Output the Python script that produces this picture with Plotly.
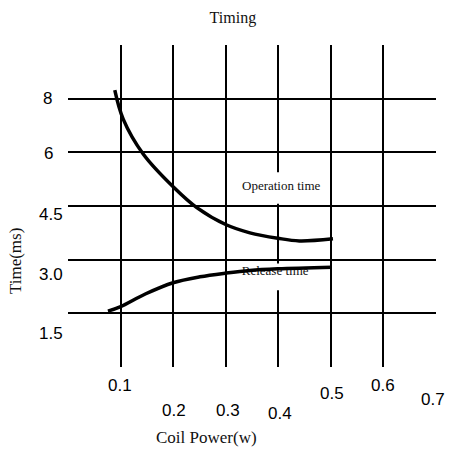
import plotly.graph_objects as go

# ---- data (y in grid units: each horizontal grid line = 1 step) ----
op_power = [0.089, 0.105, 0.143, 0.202, 0.245, 0.301, 0.346, 0.399, 0.440, 0.504]
op_time = [5.16, 4.62, 3.97, 3.34, 2.97, 2.65, 2.50, 2.40, 2.35, 2.39]

rel_power = [0.076, 0.099, 0.147, 0.200, 0.251, 0.301, 0.346, 0.399, 0.502]
rel_time = [1.04, 1.12, 1.36, 1.57, 1.68, 1.75, 1.80, 1.83, 1.86]

x_ticks = [0.1, 0.2, 0.3, 0.4, 0.5, 0.6, 0.7]
x_tick_labels = ["0.1", "0.2", "0.3", "0.4", "0.5", "0.6", "0.7"]
y_grid = [1, 2, 3, 4, 5, 6]
y_ticks = [5, 4, 3, 2, 1]
y_tick_labels = ["8", "6", "4.5", "3.0", "1.5"]

# ---- layout helpers (pixel offsets for the staggered labels) ----
x_label_drop = [18, 43, 43, 46, 26, 18, 32]
x_label_shift = [-1, 1, 2, 2, 1, 0, -3]
y_label_drop = [0, 1, 8, 15, 20]
y_label_shift = [-21, -20, -17, -17, -17]

SERIF = "Liberation Serif"
SANS = "Liberation Sans"

fig = go.Figure()

# white boxes behind the curve labels (hide the grid line there)
fig.add_shape(type="rect", layer="between", x0=0.33, x1=0.48, y0=3.04, y1=3.63,
              fillcolor="white", line=dict(width=0))
fig.add_shape(type="rect", layer="between", x0=0.33, x1=0.46, y0=1.43, y1=1.93,
              fillcolor="white", line=dict(width=0))

fig.add_trace(go.Scatter(x=op_power, y=op_time, mode="lines",
                         line=dict(color="black", width=3.5, shape="spline", smoothing=1.0),
                         hoverinfo="skip", showlegend=False))
fig.add_trace(go.Scatter(x=[0.394], y=[1.77], mode="text", text=["Release time"],
                         textfont=dict(family=SERIF, size=13, color="#111"),
                         hoverinfo="skip", showlegend=False))
fig.add_trace(go.Scatter(x=rel_power, y=rel_time, mode="lines",
                         line=dict(color="black", width=3.5, shape="spline", smoothing=1.0),
                         hoverinfo="skip", showlegend=False))

annotations = []
annotations.append(dict(x=0.407, y=3.39, xref="x", yref="y", text="Operation time",
                        showarrow=False, font=dict(family=SERIF, size=13, color="#111")))
for xv, lab, drop, sh in zip(x_ticks, x_tick_labels, x_label_drop, x_label_shift):
    annotations.append(dict(x=xv, y=0, xref="x", yref="paper", text=lab, showarrow=False,
                            xanchor="center", yanchor="middle", yshift=-drop, xshift=sh,
                            font=dict(family=SANS, size=17, color="black")))
for yv, lab, drop, sh in zip(y_ticks, y_tick_labels, y_label_drop, y_label_shift):
    annotations.append(dict(x=0, y=yv, xref="paper", yref="y", text=lab, showarrow=False,
                            xanchor="center", yanchor="middle", yshift=-drop, xshift=sh,
                            font=dict(family=SANS, size=17, color="black")))
annotations.append(dict(x=0.234, y=0, xref="paper", yref="paper", text="Coil Power(w)",
                        showarrow=False, yshift=-70, yanchor="middle",
                        font=dict(family=SERIF, size=17, color="#111")))
annotations.append(dict(x=-0.144, y=0.329, xref="paper", yref="paper", text="Time(ms)",
                        showarrow=False, textangle=-90, xanchor="center", yanchor="middle",
                        font=dict(family=SERIF, size=17, color="#111")))

fig.update_layout(
    width=449, height=451,
    margin=dict(l=68, r=13, t=45, b=84),
    paper_bgcolor="white", plot_bgcolor="white",
    title=dict(text="Timing", x=0.448, xref="paper", y=1 - 17 / 451, yanchor="middle",
               font=dict(family=SERIF, size=16, color="#111")),
    annotations=annotations,
    xaxis=dict(range=[0, 0.7], tickvals=x_ticks, showticklabels=False, showgrid=True,
               gridcolor="black", gridwidth=2, zeroline=False, showline=False, ticks=""),
    yaxis=dict(range=[0, 6], tickvals=y_grid, showticklabels=False, showgrid=True,
               gridcolor="black", gridwidth=2, zeroline=False, showline=False, ticks=""),
    showlegend=False,
)

fig.write_html("out.html", config={"displayModeBar": False},
               post_script="document.body.style.margin='0';")
